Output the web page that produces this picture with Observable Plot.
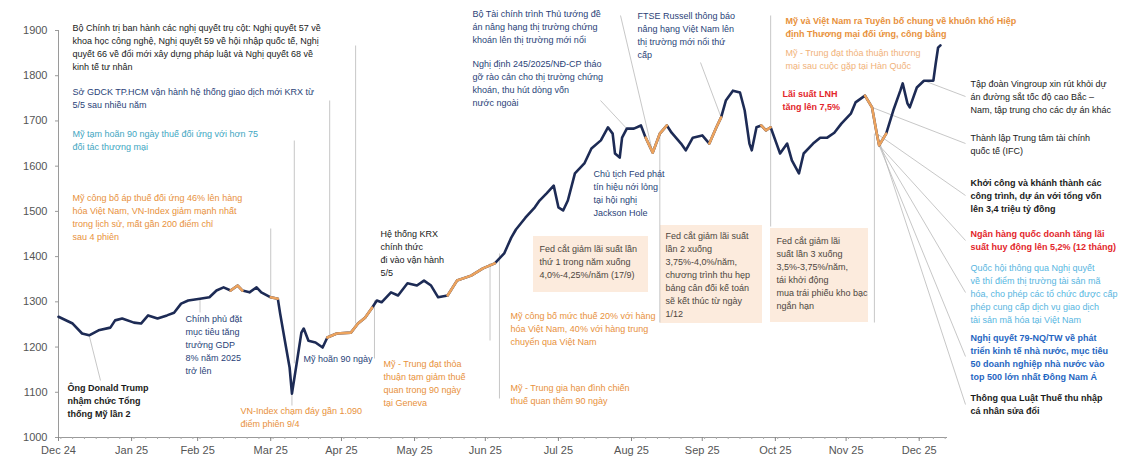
<!DOCTYPE html>
<html><head><meta charset="utf-8">
<script src="https://cdn.jsdelivr.net/npm/d3@7"></script>
<script src="https://cdn.jsdelivr.net/npm/@observablehq/plot@0.6"></script>
<style>
html,body{margin:0;padding:0;background:#fff;}
#chart{width:1135px;height:470px;overflow:hidden;}
</style></head><body><div id="chart"></div>
<script>
// ---- data: VN-Index closes ----
const dates = ["2024-12-31","2025-01-06","2025-01-10","2025-01-13","2025-01-17","2025-01-22","2025-01-24","2025-01-27","2025-02-01","2025-02-04",
"2025-02-07","2025-02-11","2025-02-15","2025-02-18","2025-02-21","2025-02-24","2025-03-01","2025-03-05","2025-03-08","2025-03-11",
"2025-03-14","2025-03-17","2025-03-19","2025-03-22","2025-03-25","2025-03-27","2025-03-31","2025-04-03","2025-04-04","2025-04-06",
"2025-04-08","2025-04-09","2025-04-11","2025-04-13","2025-04-14","2025-04-16","2025-04-19","2025-04-22","2025-04-24","2025-04-28",
"2025-05-04","2025-05-07","2025-05-10","2025-05-13","2025-05-15","2025-05-17","2025-05-21","2025-05-24","2025-05-28","2025-06-01",
"2025-06-04","2025-06-07","2025-06-10","2025-06-14","2025-06-18","2025-06-24","2025-06-29","2025-07-04","2025-07-08","2025-07-11",
"2025-07-13","2025-07-17","2025-07-21","2025-07-23","2025-07-26","2025-07-29","2025-07-31","2025-08-02","2025-08-04","2025-08-07",
"2025-08-11","2025-08-14","2025-08-18","2025-08-21","2025-08-23","2025-08-24","2025-08-26","2025-08-27","2025-08-29","2025-09-01",
"2025-09-04","2025-09-06","2025-09-09","2025-09-12","2025-09-15","2025-09-17","2025-09-21","2025-09-23","2025-09-26","2025-09-30",
"2025-10-03","2025-10-06","2025-10-08","2025-10-10","2025-10-13","2025-10-16","2025-10-18","2025-10-20","2025-10-21","2025-10-23",
"2025-10-25","2025-10-27","2025-10-29","2025-10-31","2025-11-02","2025-11-05","2025-11-07","2025-11-10","2025-11-12","2025-11-16",
"2025-11-19","2025-11-22","2025-11-25","2025-11-28","2025-12-02","2025-12-04","2025-12-08","2025-12-11","2025-12-13","2025-12-14",
"2025-12-17","2025-12-20","2025-12-23","2025-12-24","2025-12-26","2025-12-27","2025-12-30","2026-01-02","2026-01-06","2026-01-07",
"2026-01-08","2026-01-09"];
const values = [1267,1252,1230,1226,1237,1243,1259,1263,1254,1252,
1270,1263,1270,1276,1296,1303,1307,1310,1325,1332,
1325,1336,1325,1321,1332,1321,1310,1307,1274,1214,
1155,1097,1164,1232,1241,1214,1210,1199,1221,1230,
1232,1252,1265,1287,1303,1299,1321,1314,1341,1336,
1347,1336,1310,1314,1347,1358,1374,1385,1407,1442,
1460,1486,1509,1524,1540,1557,1509,1502,1524,1584,
1606,1639,1657,1686,1672,1628,1619,1663,1683,1683,
1690,1663,1630,1672,1690,1674,1650,1635,1663,1668,
1650,1686,1708,1745,1767,1763,1723,1650,1635,1686,
1690,1679,1686,1657,1628,1650,1613,1584,1628,1650,
1663,1663,1674,1694,1716,1741,1756,1730,1672,1646,
1672,1723,1767,1783,1739,1730,1774,1789,1789,1827,
1862,1867];

// highlighted (orange) stretches of the line
const hlStart = ["2025-03-14","2025-03-29","2025-04-24","2025-06-14","2025-09-06","2025-10-03","2025-10-25","2025-12-08"];
const hlEnd   = ["2025-03-19","2025-04-03","2025-05-13","2025-07-04","2025-09-15","2025-10-08","2025-10-29","2025-12-17"];

// axis ticks
const monthEnds = ["2024-12-31","2025-01-31","2025-02-28","2025-03-31","2025-04-30","2025-05-31","2025-06-30","2025-07-31","2025-08-31","2025-09-30","2025-10-31","2025-11-30","2025-12-31"];
const monthLabels = ["Dec 24","Jan 25","Feb 25","Mar 25","Apr 25","May 25","Jun 25","Jul 25","Aug 25","Sep 25","Oct 25","Nov 25","Dec 25"];
const yTicks = [1000,1100,1200,1300,1400,1500,1600,1700,1800,1900];

// annotation texts
const annTexts = [
 ["Bộ Chính trị ban hành các nghị quyết trụ cột: Nghị quyết 57 về","khoa học công nghệ, Nghị quyết 59 về hội nhập quốc tế, Nghị","quyết 66 về đổi mới xây dựng pháp luật và Nghị quyết 68 về","kinh tế tư nhân"],
 ["Sở GDCK TP.HCM vận hành hệ thống giao dịch mới KRX từ","5/5 sau nhiều năm"],
 ["Mỹ tạm hoãn 90 ngày thuế đối ứng với hơn 75","đối tác thương mại"],
 ["Mỹ công bố áp thuế đối ứng 46% lên hàng","hóa Việt Nam, VN-Index giảm mạnh nhất","trong lịch sử, mất gần 200 điểm chỉ","sau 4 phiên"],
 ["Ông Donald Trump","nhậm chức Tổng","thống Mỹ lần 2"],
 ["Chính phủ đặt","mục tiêu tăng","trưởng GDP","8% năm 2025","trở lên"],
 ["VN-Index chạm đáy gần 1.090","điểm phiên 9/4"],
 ["Mỹ hoãn 90 ngày"],
 ["Hệ thống KRX","chính thức","đi vào vận hành","5/5"],
 ["Mỹ - Trung đạt thỏa","thuận tạm giảm thuế","quan trong 90 ngày","tại Geneva"],
 ["Fed cắt giảm lãi suất lần","thứ 1 trong năm xuống","4,0%-4,25%/năm (17/9)"],
 ["Mỹ công bố mức thuế 20% với hàng","hóa Việt Nam, 40% với hàng trung","chuyển qua Việt Nam"],
 ["Mỹ - Trung gia hạn đình chiến","thuế quan thêm 90 ngày"],
 ["Fed cắt giảm lãi suất","lần 2 xuống","3,75%-4,0%/năm,","chương trình thu hẹp","bảng cân đối kế toán","sẽ kết thúc từ ngày","1/12"],
 ["Fed cắt giảm lãi","suất lần 3 xuống","3,5%-3,75%/năm,","tái khởi động","mua trái phiếu kho bạc","ngắn hạn"],
 ["Mỹ và Việt Nam ra Tuyên bố chung về khuôn khổ Hiệp","định Thương mại đối ứng, công bằng"],
 ["Mỹ - Trung đạt thỏa thuận thương","mại sau cuộc gặp tại Hàn Quốc"],
 ["Lãi suất LNH","tăng lên 7,5%"],
 ["Tập đoàn Vingroup xin rút khỏi dự","án đường sắt tốc độ cao Bắc –","Nam, tập trung cho các dự án khác"],
 ["Thành lập Trung tâm tài chính","quốc tế (IFC)"],
 ["Khởi công và khánh thành các","công trình, dự án với tổng vốn","lên 3,4 triệu tỷ đồng"],
 ["Ngân hàng quốc doanh tăng lãi","suất huy động lên 5,2% (12 tháng)"],
 ["Quốc hội thông qua Nghị quyết","về thí điểm thị trường tài sản mã","hóa, cho phép các tổ chức được cấp","phép cung cấp dịch vụ giao dịch","tài sản mã hóa tại Việt Nam"],
 ["Nghị quyết 79-NQ/TW về phát","triển kinh tế nhà nước, mục tiêu","50 doanh nghiệp nhà nước vào","top 500 lớn nhất Đông Nam Á"],
 ["Thông qua Luật Thuế thu nhập","cá nhân sửa đổi"],
 ["Bộ Tài chính trình Thủ tướng đề","án nâng hạng thị trường chứng","khoán lên thị trường mới nổi"],
 ["Nghị định 245/2025/NĐ-CP tháo","gỡ rào cản cho thị trường chứng","khoán, thu hút dòng vốn","nước ngoài"],
 ["FTSE Russell thông báo","nâng hạng Việt Nam lên","thị trường mới nổi thứ","cấp"],
 ["Chủ tịch Fed phát","tín hiệu nới lỏng","tại hội nghị","Jackson Hole"]
];

// ---- layout (pixel positions of annotation blocks) ----
const BLACK="#1a1a1a", NAVY="#2a3f78", TEAL="#3fa6c2", ORANGE="#e8913c", LORANGE="#f1b27a", RED="#e3262b", LBLUE="#58b6df", BLUE="#1f66c2", BOXTXT="#4d4640";
const annLayout = [
 {px:72,py:21,color:BLACK,bold:false},
 {px:72,py:85,color:NAVY,bold:false},
 {px:72,py:127,color:TEAL,bold:false},
 {px:72,py:191,color:ORANGE,bold:false},
 {px:67,py:381,color:BLACK,bold:true},
 {px:185,py:312,color:NAVY,bold:false},
 {px:240,py:404,color:ORANGE,bold:false},
 {px:303,py:352,color:NAVY,bold:false},
 {px:380,py:227,color:BLACK,bold:false},
 {px:383,py:357,color:ORANGE,bold:false},
 {px:539,py:242,color:BOXTXT,bold:false},
 {px:510,py:309,color:ORANGE,bold:false},
 {px:510,py:381,color:ORANGE,bold:false},
 {px:665,py:229,color:BOXTXT,bold:false},
 {px:776,py:234,color:BOXTXT,bold:false},
 {px:785,py:14,color:ORANGE,bold:true},
 {px:785,py:46,color:LORANGE,bold:false},
 {px:782,py:87,color:RED,bold:true},
 {px:970,py:77,color:BLACK,bold:false},
 {px:970,py:131,color:BLACK,bold:false},
 {px:970,py:176,color:BLACK,bold:true},
 {px:970,py:227,color:RED,bold:true},
 {px:970,py:261,color:LBLUE,bold:false},
 {px:970,py:331,color:BLUE,bold:true},
 {px:970,py:391,color:BLACK,bold:true},
 {px:472,py:7,color:NAVY,bold:false},
 {px:472,py:57,color:NAVY,bold:false},
 {px:637,py:9,color:NAVY,bold:false},
 {px:593,py:167,color:NAVY,bold:false}
];
const boxLayout = [
 {x1:533,x2:648,y1:236,y2:292},
 {x1:660,x2:762,y1:225,y2:323},
 {x1:770,x2:868,y1:228,y2:322}
];
// leaders: start on the line at an event date, end at a pixel point
const leaders = [
 {date:"2025-05-06",ty:45},{date:"2025-04-25",ty:100},{date:"2025-04-10",ty:140},{date:"2025-03-31",ty:228},
 {date:"2025-01-13",tx:100,ty:380},{date:"2025-03-01",ty:312},{date:"2025-04-09",ty:405},{date:"2025-05-14",ty:358},
 {date:"2025-07-02",ty:340},{date:"2025-07-06",ty:398},{date:"2025-09-12",ty:322},
 {date:"2025-10-29",ty:15},{date:"2025-10-29",ty:226},{date:"2025-12-12",ty:322},
 {date:"2025-10-08",tx:700,ty:62},{date:"2025-08-29",tx:600,ty:100},{date:"2025-09-09",tx:620,ty:15},
 {date:"2026-01-02",tx:965,ty:96},{date:"2025-12-11",tx:965,ty:143},{date:"2025-12-13",tx:965,ty:195},
 {date:"2025-12-14",tx:965,ty:240},{date:"2025-12-14",tx:965,ty:292},{date:"2025-12-14",tx:965,ty:356},
 {date:"2025-12-13",tx:965,ty:404}
];

// ---- build ----
const parse = d3.utcParse("%Y-%m-%d");
const series = dates.map((d,i)=>({date:parse(d), value:values[i]}));
const hl = [];
hlStart.forEach((s,k)=>{const a=parse(s), b=parse(hlEnd[k]); series.forEach(p=>{ if(p.date>=a && p.date<=b) hl.push({...p, seg:k}); });});

const W=1135, H=470, ML=58, MR=188, MT=30, MB=33;
const T0 = parse("2024-12-31"), T1 = parse("2026-01-12");
const pxToDate = px => new Date(+T0 + (px-ML)/(W-ML-MR)*(T1-T0));
const pyToVal = py => 1900 - (py-MT)/(H-MB-MT)*900;
const bis = d3.bisector(d=>d.date).center;
const valueAt = dt => series[bis(series, dt)].value;

const ann = annTexts.map((lines,i)=>({lines, ...annLayout[i]}));
const leaderData = leaders.map(l=>{const d=parse(l.date); return {x1:d, y1:valueAt(d), x2: l.tx!=null?pxToDate(l.tx):d, y2: pyToVal(l.ty)};});
const minor = d3.utcDay.every(5).range(T0, T1);
const FONT = "'Liberation Sans', Arial, Helvetica, sans-serif";

const textOpts = {x:d=>pxToDate(d.px), y:d=>pyToVal(d.py), text:d=>d.lines.join("\n"), fill:d=>d.color,
  textAnchor:"start", lineAnchor:"top", fontSize:9, lineHeight:1.45, fontFamily:FONT};

const chart = Plot.plot({
  width:W, height:H, marginLeft:ML, marginRight:MR, marginTop:MT, marginBottom:MB,
  style:{fontFamily:FONT, background:"#fff"},
  x:{type:"utc", domain:[T0,T1]},
  y:{domain:[1000,1900]},
  color:{type:"identity"},
  marks:[
    Plot.rect(boxLayout, {x1:d=>pxToDate(d.x1), x2:d=>pxToDate(d.x2), y1:d=>pyToVal(d.y2), y2:d=>pyToVal(d.y1), fill:"#fcebdd"}),
    Plot.link(leaderData, {x1:"x1", y1:"y1", x2:"x2", y2:"y2", stroke:"#b9b9b9", strokeWidth:0.8}),
    Plot.ruleX([T0], {stroke:"#9a9a9a", strokeWidth:1}),
    Plot.ruleY([1000], {stroke:"#9a9a9a", strokeWidth:1}),
    Plot.axisY({ticks:yTicks, tickFormat:"d", tickSize:3, tickPadding:8, fontSize:11, color:"#555", stroke:"#9a9a9a"}),
    Plot.axisX({ticks:minor, tickSize:2, tickFormat:()=>"", stroke:"#aaa"}),
    Plot.axisX({ticks:monthEnds.map(parse), tickSize:4, tickPadding:5, fontSize:11, color:"#555", stroke:"#888",
      tickFormat:(d,i)=>monthLabels[i]}),
    Plot.line(series, {x:"date", y:"value", stroke:"#1d2b55", strokeWidth:2.6, strokeLinejoin:"round"}),
    Plot.line(hl, {x:"date", y:"value", z:"seg", stroke:"#eca35e", strokeWidth:2.6, strokeLinejoin:"round"}),
    Plot.text(ann.filter(d=>!d.bold), {...textOpts}),
    Plot.text(ann.filter(d=>d.bold), {...textOpts, fontWeight:"bold"})
  ]
});
document.getElementById("chart").appendChild(chart);
</script>
</body></html>
